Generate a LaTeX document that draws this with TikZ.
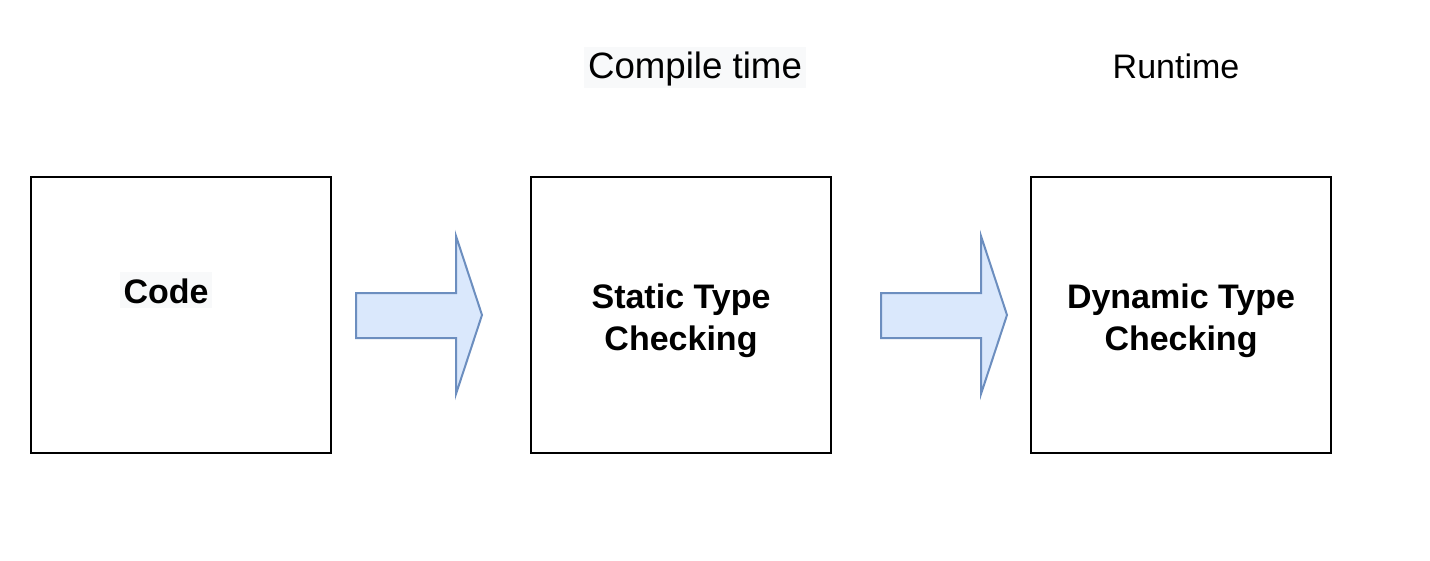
\documentclass[tikz,border=0pt]{standalone}
\usepackage{fontspec}
\setmainfont{Liberation Sans}
\begin{document}
\begin{tikzpicture}[x=0.75pt,y=-0.75pt,
  box/.style={draw=black,line width=1.5pt,fill=white},
  blockarrow/.style={draw=arrowline,fill=arrowfill,line width=1.5pt,line join=miter},
  boldlabel/.style={font=\fontsize{25.5pt}{31.5pt}\selectfont\bfseries,align=center,inner sep=0pt},
  toplabel/.style={font=\fontsize{27.5pt}{32pt}\selectfont,inner sep=0pt}]
\definecolor{arrowline}{HTML}{6C8EBF}
\definecolor{arrowfill}{HTML}{DAE8FC}
\definecolor{labelbg}{HTML}{F8F9FA}
\useasboundingbox (0,0) rectangle (1430,560);
\fill[white] (0,0) rectangle (1430,560);
% boxes
\draw[box] (31,177) rectangle (331,453);
\draw[box] (531,177) rectangle (831,453);
\draw[box] (1031,177) rectangle (1331,453);
% labels
\fill[labelbg] (120,272) rectangle (212,308);
\node[boldlabel] (code) at (166,291) {Code};
\node[boldlabel] (static) at (681,321) {Static Type\\Checking};
\node[boldlabel] (dynamic) at (1181,321) {Dynamic Type\\Checking};
\fill[labelbg] (584,47) rectangle (806,88);
\node[toplabel] (compile) at (695,69) {Compile time};
\node[toplabel,font=\fontsize{25.5pt}{31pt}\selectfont] (runtime) at (1176,66) {Runtime};
% block arrows
\draw[blockarrow] (356,293) -- (456,293) -- (456,236) -- (482,315) -- (456,394) -- (456,338) -- (356,338) -- cycle;
\draw[blockarrow] (881,293) -- (981,293) -- (981,236) -- (1007,315) -- (981,394) -- (981,338) -- (881,338) -- cycle;
\end{tikzpicture}
\end{document}
